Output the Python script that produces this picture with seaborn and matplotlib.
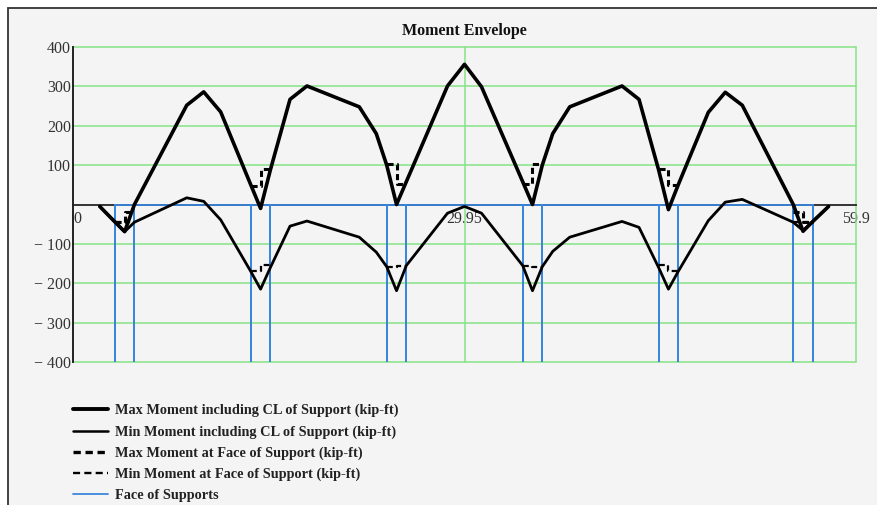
import numpy as np
import pandas as pd
import matplotlib
matplotlib.use("Agg")
import matplotlib.pyplot as plt
import seaborn as sns
from matplotlib.lines import Line2D
from matplotlib.patches import Rectangle
from matplotlib.font_manager import FontProperties

# ---------------- data ----------------
x_pos = [2.05, 3.2, 3.95, 4.7, 8.7, 10.0, 11.3, 13.6, 14.35, 15.1, 16.6, 17.9,
         21.9, 23.2, 24.0, 24.75, 25.5, 28.65, 29.95, 31.25, 34.4, 35.15, 35.9,
         36.7, 38.0, 42.0, 43.3, 44.8, 45.55, 46.3, 48.6, 49.9, 51.2, 55.1,
         55.85, 56.6, 57.8]
max_moment = [-5, -44, -69, 0, 252, 286, 235, 50, -10, 88, 267, 301,
              248, 180, 100, 0, 58, 301, 356, 299, 58, 0, 100,
              180, 248, 301, 267, 88, -13, 50, 234, 285, 252, 0,
              -68, -43, -5]
min_moment = [-5, -44, -69, -45, 17, 8, -39, -170, -215, -160, -55, -42,
              -83, -121, -158, -219, -155, -22, -5, -22, -155, -219, -158,
              -119, -83, -43, -58, -160, -215, -170, -41, 6, 13, -45,
              -66, -43, -5]

support_cl = [3.95, 14.35, 24.75, 35.15, 45.55, 55.85]
face_left = [3.2, 13.6, 24.0, 34.4, 44.8, 55.1]
face_right = [4.7, 15.1, 25.5, 35.9, 46.3, 56.6]
max_face_left = [-44, 48, 104, 53, 91, -18]
max_face_right = [-18, 91, 53, 104, 50, -44]
min_face_left = [-44, -168, -159, -157, -153, -45]
min_face_right = [-45, -153, -157, -159, -168, -44]

x_ticks = [0, 29.95, 59.9]
x_ticklabels = ["0", "29.95", "59.9"]
y_ticks = [-400, -300, -200, -100, 0, 100, 200, 300, 400]
y_ticklabels = ["\u2212 400", "\u2212 300", "\u2212 200", "\u2212 100", "", "100", "200", "300", "400"]

legend_labels = ["Max Moment including CL of Support (kip-ft)",
                 "Min Moment including CL of Support (kip-ft)",
                 "Max Moment at Face of Support (kip-ft)",
                 "Min Moment at Face of Support (kip-ft)",
                 "Face of Supports"]
title = "Moment Envelope"

# ---------------- derived tables ----------------
rows = []
for i, c in enumerate(support_cl):
    rows.append((i, face_left[i], max_face_left[i], min_face_left[i]))
    rows.append((i, c, max_face_left[i], min_face_left[i]))
    rows.append((i, c, max_face_right[i], min_face_right[i]))
    rows.append((i, face_right[i], max_face_right[i], min_face_right[i]))
face_df = pd.DataFrame(rows, columns=["support", "x", "max", "min"])

# polyline for the support faces: down/up on both faces, joined along zero
y_bottom = y_ticks[0]
fx, fy = [], []
for i in range(len(support_cl)):
    fx += [face_left[i], face_left[i], face_left[i], face_right[i], face_right[i], face_right[i]]
    fy += [0, y_bottom, 0, 0, y_bottom, 0]
faces_df = pd.DataFrame({"x": fx, "y": fy})

# ---------------- style ----------------
sns.set_style("white")
plt.rcParams["font.family"] = ["Liberation Serif", "DejaVu Serif"]
plt.rcParams["axes.unicode_minus"] = True

GREEN = "#86e386"
BLUE = "#3a86dc"
BG = "#f4f4f4"

fig = plt.figure(figsize=(8.77, 5.05), dpi=100)
fig.patch.set_facecolor("white")
frame = Rectangle((8 / 877, -0.02), 1.05, (505 - 8) / 505 + 0.02,
                  transform=fig.transFigure, facecolor=BG, edgecolor="#333333",
                  linewidth=1.3, zorder=0)
fig.add_artist(frame)

ax = fig.add_axes([73 / 877, 143 / 505, 783 / 877, 315 / 505])
ax.set_facecolor("none")

# grid
for yv in y_ticks:
    if yv != 0:
        ax.axhline(yv, color=GREEN, lw=1.1, zorder=1, clip_on=False)
for xv in x_ticks[1:]:
    ax.axvline(xv, color=GREEN, lw=1.1, zorder=1, clip_on=False)

# face of supports
sns.lineplot(data=faces_df, x="x", y="y", sort=False, estimator=None,
             color=BLUE, lw=1.3, ax=ax, zorder=3)

# envelopes
sns.lineplot(x=x_pos, y=max_moment, sort=False, estimator=None,
             color="black", lw=2.6, ax=ax, zorder=5)
sns.lineplot(x=x_pos, y=min_moment, sort=False, estimator=None,
             color="black", lw=2.0, ax=ax, zorder=5)

# face moments (dashed)
sns.lineplot(data=face_df, x="x", y="max", units="support", estimator=None,
             sort=False, color="black", lw=2.2, dashes=False, ax=ax, zorder=4,
             linestyle=(0, (2.0, 1.2)))
sns.lineplot(data=face_df, x="x", y="min", units="support", estimator=None,
             sort=False, color="black", lw=1.6, dashes=False, ax=ax, zorder=4,
             linestyle=(0, (2.6, 1.6)))

ax.set_xlim(x_ticks[0], x_ticks[-1])
ax.set_ylim(y_ticks[0], y_ticks[-1])
ax.set_xlabel("")
ax.set_ylabel("")

for s in ["top", "right"]:
    ax.spines[s].set_visible(False)
ax.spines["left"].set_color("#222222")
ax.spines["left"].set_linewidth(1.4)
ax.spines["bottom"].set_position(("data", 0))
ax.spines["bottom"].set_color("#333333")
ax.spines["bottom"].set_linewidth(1.4)
ax.spines["bottom"].set_zorder(2)

ax.set_yticks(y_ticks)
ax.set_yticklabels(y_ticklabels)
ax.set_xticks(x_ticks)
ax.set_xticklabels(x_ticklabels)
ax.tick_params(axis="y", direction="in", length=4, width=1.2, color="#222222",
               pad=1.5, labelsize=11.5, labelcolor="#333333")
ax.tick_params(axis="x", direction="in", length=5, width=1.2, color="#333333",
               pad=5, labelsize=11.5, labelcolor="#333333")
ax.get_xticklabels()[0].set_horizontalalignment("left")

ax.set_title(title, fontweight="bold", fontsize=11.5, pad=9, color="#111111")

handles = [
    Line2D([], [], color="black", lw=2.8),
    Line2D([], [], color="black", lw=1.8),
    Line2D([], [], color="black", lw=2.4, linestyle=(0, (2.2, 1.4))),
    Line2D([], [], color="black", lw=1.7, linestyle=(0, (3.0, 1.8))),
    Line2D([], [], color=BLUE, lw=1.3),
]
leg = fig.legend(handles, legend_labels, loc="upper left",
                 bbox_to_anchor=(73 / 877, (505 - 404) / 505),
                 frameon=False, borderpad=0, borderaxespad=0,
                 handlelength=2.45, handletextpad=0.5, labelspacing=0.54,
                 prop=FontProperties(family="Liberation Serif", weight="bold", size=10.3))
for t in leg.get_texts():
    t.set_color("#222222")

fig.savefig("out.png", dpi=100)
